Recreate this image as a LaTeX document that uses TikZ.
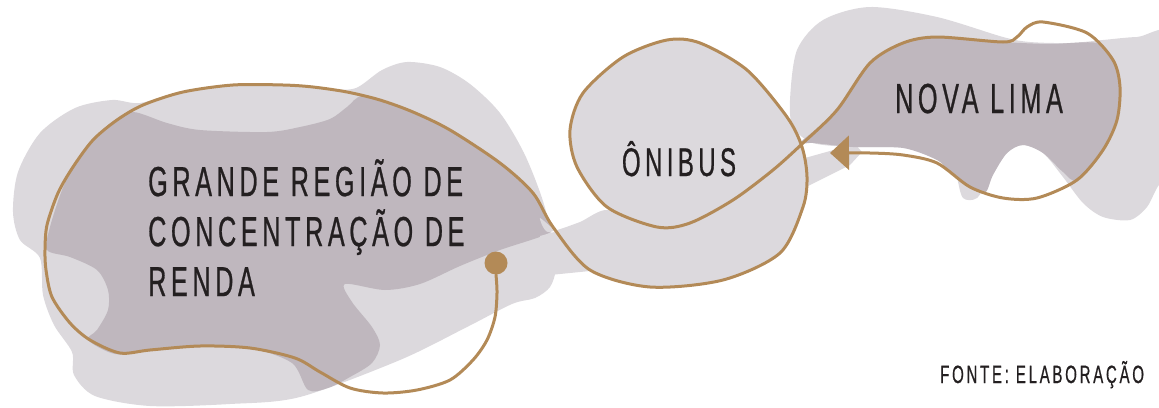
\documentclass[tikz,border=0pt]{standalone}
\usepackage{fontspec}
\setmainfont{Liberation Sans}[FakeStretch=0.6,LetterSpace=11,FakeBold=0.6]
\usepackage{tikz}
\usetikzlibrary{arrows.meta}

\definecolor{blobgray}{HTML}{DCD9DD}
\definecolor{blobdark}{HTML}{BFB7BE}
\definecolor{gold}{HTML}{B38A57}
\definecolor{ink}{HTML}{231F20}

\begin{document}
\begin{tikzpicture}[x=1pt,y=-1pt,
blob/.style={fill=blobgray, draw=none},
overlap/.style={fill=blobdark, draw=none},
route/.style={draw=gold, line width=3pt, line cap=round, line join=round, -{Triangle[length=19pt,width=34pt]}},
knot/.style={circle, fill=gold, inner sep=0pt, minimum size=23pt},
place/.style={text=ink, inner sep=0pt, font=\fontsize{42}{50}\selectfont},
source/.style={text=ink, inner sep=0pt, font=\fontsize{25}{30}\selectfont}
]
\useasboundingbox (0,0) rectangle (1159,407);

%% Manchas %%%%%%%%%%%%%%%%%%%%%%%%%%%%%%%%%%%%%%%%%%%%%%%%%%%%%%%%%%%%%%%%%%%%%%%

%% Regiao de renda
\fill [blob] plot [smooth cycle, tension=0.5] coordinates {
  (13,212) (18,172) (40,133) (75,108) (112,100) (140,103) (183,91) (233,84)
  (283,84) (330,89) (356,88) (382,70) (407,62) (440,67) (470,84) (500,113)
  (524,153) (542,198) (553,240) (556,268) (550,287) (535,298) (512,304)
  (467,327) (400,360) (300,397) (230,404) (150,406) (95,396) (74,375)
  (72,352) (54,325) (43,295) (40,258) (20,240)};
\fill [overlap] plot [smooth cycle, tension=0.5] coordinates {
  (133,112) (167,123) (200,130) (267,132) (300,127) (330,119) (347,107)
  (363,96) (400,108) (450,129) (500,162) (533,192) (547,220) (549,233)
  (500,250) (460,266) (420,284) (385,290) (345,284) (352,302) (372,327)
  (380,345) (372,363) (350,377) (328,388) (308,390) (292,363) (250,348)
  (200,347) (150,351) (115,354) (88,340) (97,330) (108,310) (108,290)
  (97,270) (70,257) (47,250) (50,227) (62,190) (75,163) (93,140) (112,122)};

%% Onibus
\fill [blob] plot [smooth cycle, tension=0.5] coordinates {
  (802,147) (787,117) (747,70) (700,43) (667,40) (623,57) (583,93) (570,130)
  (577,167) (607,207) (657,227) (690,223) (733,200) (773,170)};
\fill [blob] plot [smooth cycle, tension=0.4] coordinates {
  (540,218) (557,233) (590,270) (650,287) (723,280) (780,253) (803,207)
  (807,177) (802,147) (773,170) (733,200) (690,223) (657,227) (607,210)
  (580,222) (548,232)};
\fill [blob] (540,236) -- (600,219) -- (700,190) -- (805,158) -- (855,144)
  -- (862,152) -- (850,165) -- (810,185) -- (700,240) -- (600,270) -- (550,275) -- cycle;

%% Nova Lima
\fill [blob] plot [smooth cycle, tension=0.5] coordinates {
  (790,100) (797,50) (823,20) (870,7) (937,17) (1003,37) (1030,42) (1070,43)
  (1103,40) (1137,37) (1175,38) (1175,175) (1159,185) (1147,207) (1130,220)
  (1103,217) (1083,203) (1063,177) (1043,153) (1023,145) (1007,153) (990,177)
  (977,198) (963,198) (957,177) (953,157) (937,147) (903,147) (853,147)
  (813,143) (793,127)};
\fill [overlap] plot [smooth cycle, tension=0.5] coordinates {
  (800,143) (820,126) (837,110) (855,85) (870,63) (903,43) (937,37) (970,39)
  (1003,42) (1050,44) (1097,43) (1113,60) (1120,87) (1117,120) (1103,150)
  (1077,180) (1063,172) (1043,153) (1023,145) (1007,153) (993,175) (985,193)
  (970,187) (950,172) (937,160) (903,148) (853,147) (813,143)};

%% Percurso %%%%%%%%%%%%%%%%%%%%%%%%%%%%%%%%%%%%%%%%%%%%%%%%%%%%%%%%%%%%%%%%%%%%%%%

\node [knot] (dot) at (496,263) {};
\coordinate (tip) at (830,153);

\draw [route] plot [smooth, tension=0.5] coordinates {
  (dot.south) (497,293) (495,317) (487,340) (473,360) (450,380) (417,390)
  (383,393) (350,388) (320,372) (295,358) (250,348) (200,346) (150,350)
  (120,353) (90,340) (70,323) (52,297) (46,270) (45,250) (47,225) (58,193)
  (73,167) (93,140) (117,120) (143,105) (183,92) (233,85) (283,85) (313,87)
  (347,92) (380,100) (413,112) (450,130) (500,163) (533,193) (553,227)
  (590,270) (650,287) (723,280) (780,253) (803,207) (807,177) (802,147)
  (787,117) (747,70) (700,43) (667,40) (623,57) (583,93) (570,130) (577,167)
  (607,207) (657,227) (690,223) (733,200) (773,170) (803,143) (837,110)
  (870,63) (903,43) (937,37) (1003,42) (1017,37) (1027,27) (1043,22)
  (1087,33) (1113,60) (1120,87) (1117,120) (1103,150) (1077,180) (1037,198)
  (1003,198) (970,187) (937,163) (903,155) (870,153) (tip)};

%% Texte %%%%%%%%%%%%%%%%%%%%%%%%%%%%%%%%%%%%%%%%%%%%%%%%%%%%%%%%%%%%%%%%%%%%%%%%%%

\node [place, anchor=north west, align=left] (renda) at (148,159)
  {GRANDE REGIÃO DE\\CONCENTRAÇÃO DE\\RENDA};
\node [place, anchor=base, font=\fontsize{40}{48}\selectfont] (onibus) at (679,176) {ÔNIBUS};
\node [place, anchor=base] (novalima) at (979,113) {NOVA LIMA};
\node [source, anchor=base west] (fonte) at (940,383) {FONTE: ELABORAÇÃO};

\end{tikzpicture}
\end{document}
